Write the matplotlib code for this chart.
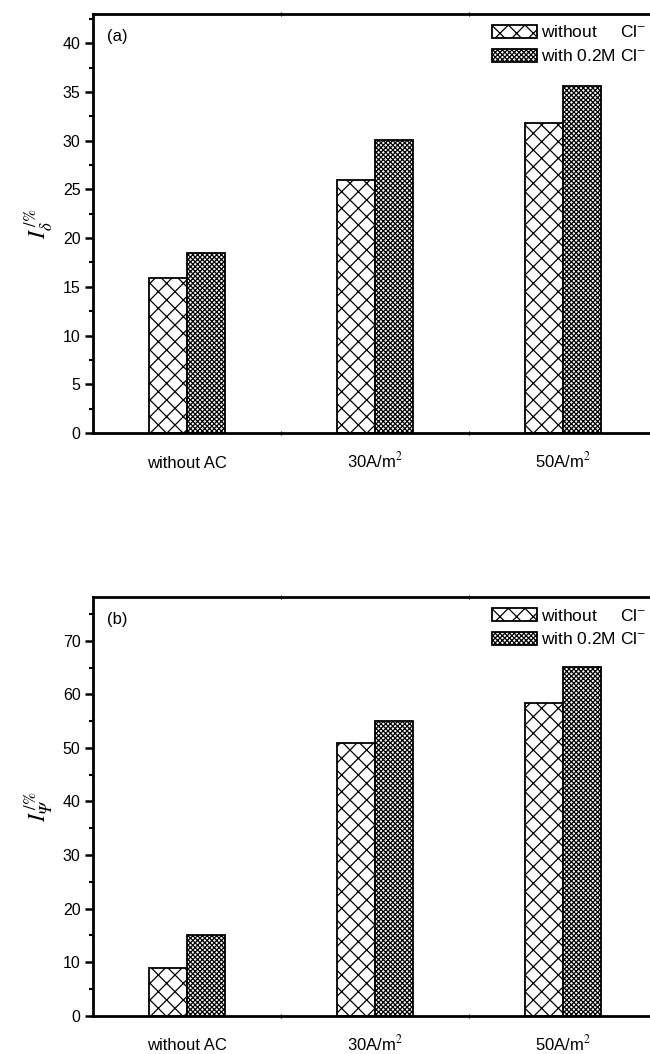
import numpy as np
import matplotlib
matplotlib.use('Agg')
import matplotlib.pyplot as plt
from matplotlib.ticker import MultipleLocator, FixedLocator

plt.rcParams['font.family'] = ['Liberation Sans', 'DejaVu Sans']
plt.rcParams['mathtext.fontset'] = 'stix'
plt.rcParams['hatch.linewidth'] = 0.9

categories = ['without AC', '30A/m$^2$', '50A/m$^2$']
series_labels = ['without     Cl$^{-}$', 'with 0.2M Cl$^{-}$']
delta_without = [15.9, 26.0, 31.8]
delta_with = [18.5, 30.1, 35.6]
psi_without = [8.8, 51.0, 58.4]
psi_with = [15.0, 55.0, 65.1]

x = np.arange(1, len(categories) + 1)
w = 0.2

fig = plt.figure(figsize=(6.5, 10.54), dpi=100)


def panel(rect, v1, v2, ylim, major, minor, ylabel, tag):
    ax = fig.add_axes(rect)
    ax.bar(x - w / 2, v1, w, facecolor='white', edgecolor='black', hatch='xx',
           linewidth=1.3, label=series_labels[0])
    ax.bar(x + w / 2, v2, w, facecolor='white', edgecolor='black', hatch='xxxxxxx',
           linewidth=1.3, label=series_labels[1])
    ax.set_xlim(0.5, 3.5)
    ax.set_ylim(0, ylim)
    ax.set_xticks(x)
    ax.set_xticklabels(categories, fontsize=12)
    for lab in ax.get_xticklabels():
        lab.set_verticalalignment('baseline')
    ax.xaxis.set_minor_locator(FixedLocator([1.5, 2.5]))
    ax.yaxis.set_major_locator(MultipleLocator(major))
    ax.yaxis.set_minor_locator(MultipleLocator(minor))
    ax.tick_params(axis='x', which='major', length=0, pad=25)
    ax.tick_params(axis='x', which='minor', direction='inout', length=3, width=0.8)
    ax.tick_params(axis='x', which='both', top=True, labeltop=False)
    ax.tick_params(axis='y', which='major', direction='out', length=6, width=1.8,
                   labelsize=11.5, pad=3)
    ax.tick_params(axis='y', which='minor', direction='out', length=3, width=1.5)
    for s in ax.spines.values():
        s.set_linewidth(2.0)
    ax.set_ylabel(ylabel, fontsize=17, labelpad=6)
    ax.text(0.025, 0.965, tag, transform=ax.transAxes, fontsize=12, va='top')
    ax.legend(loc='upper right', frameon=False, fontsize=12.5, handlelength=2.6,
              handleheight=0.8, handletextpad=0.25, labelspacing=0.45,
              borderaxespad=0.3, borderpad=0.3)
    return ax


axa = panel([0.1431, 0.5892, 0.8677, 0.3975], delta_without, delta_with, 43, 5, 2.5,
            r'$I_{\delta}^{\,/\%}$', '(a)')
axb = panel([0.1431, 0.0365, 0.8677, 0.3970], psi_without, psi_with, 78.2, 10, 5,
            r'$I_{𝛹}^{\,/\%}$', '(b)')

fig.savefig('out.png', dpi=100)
